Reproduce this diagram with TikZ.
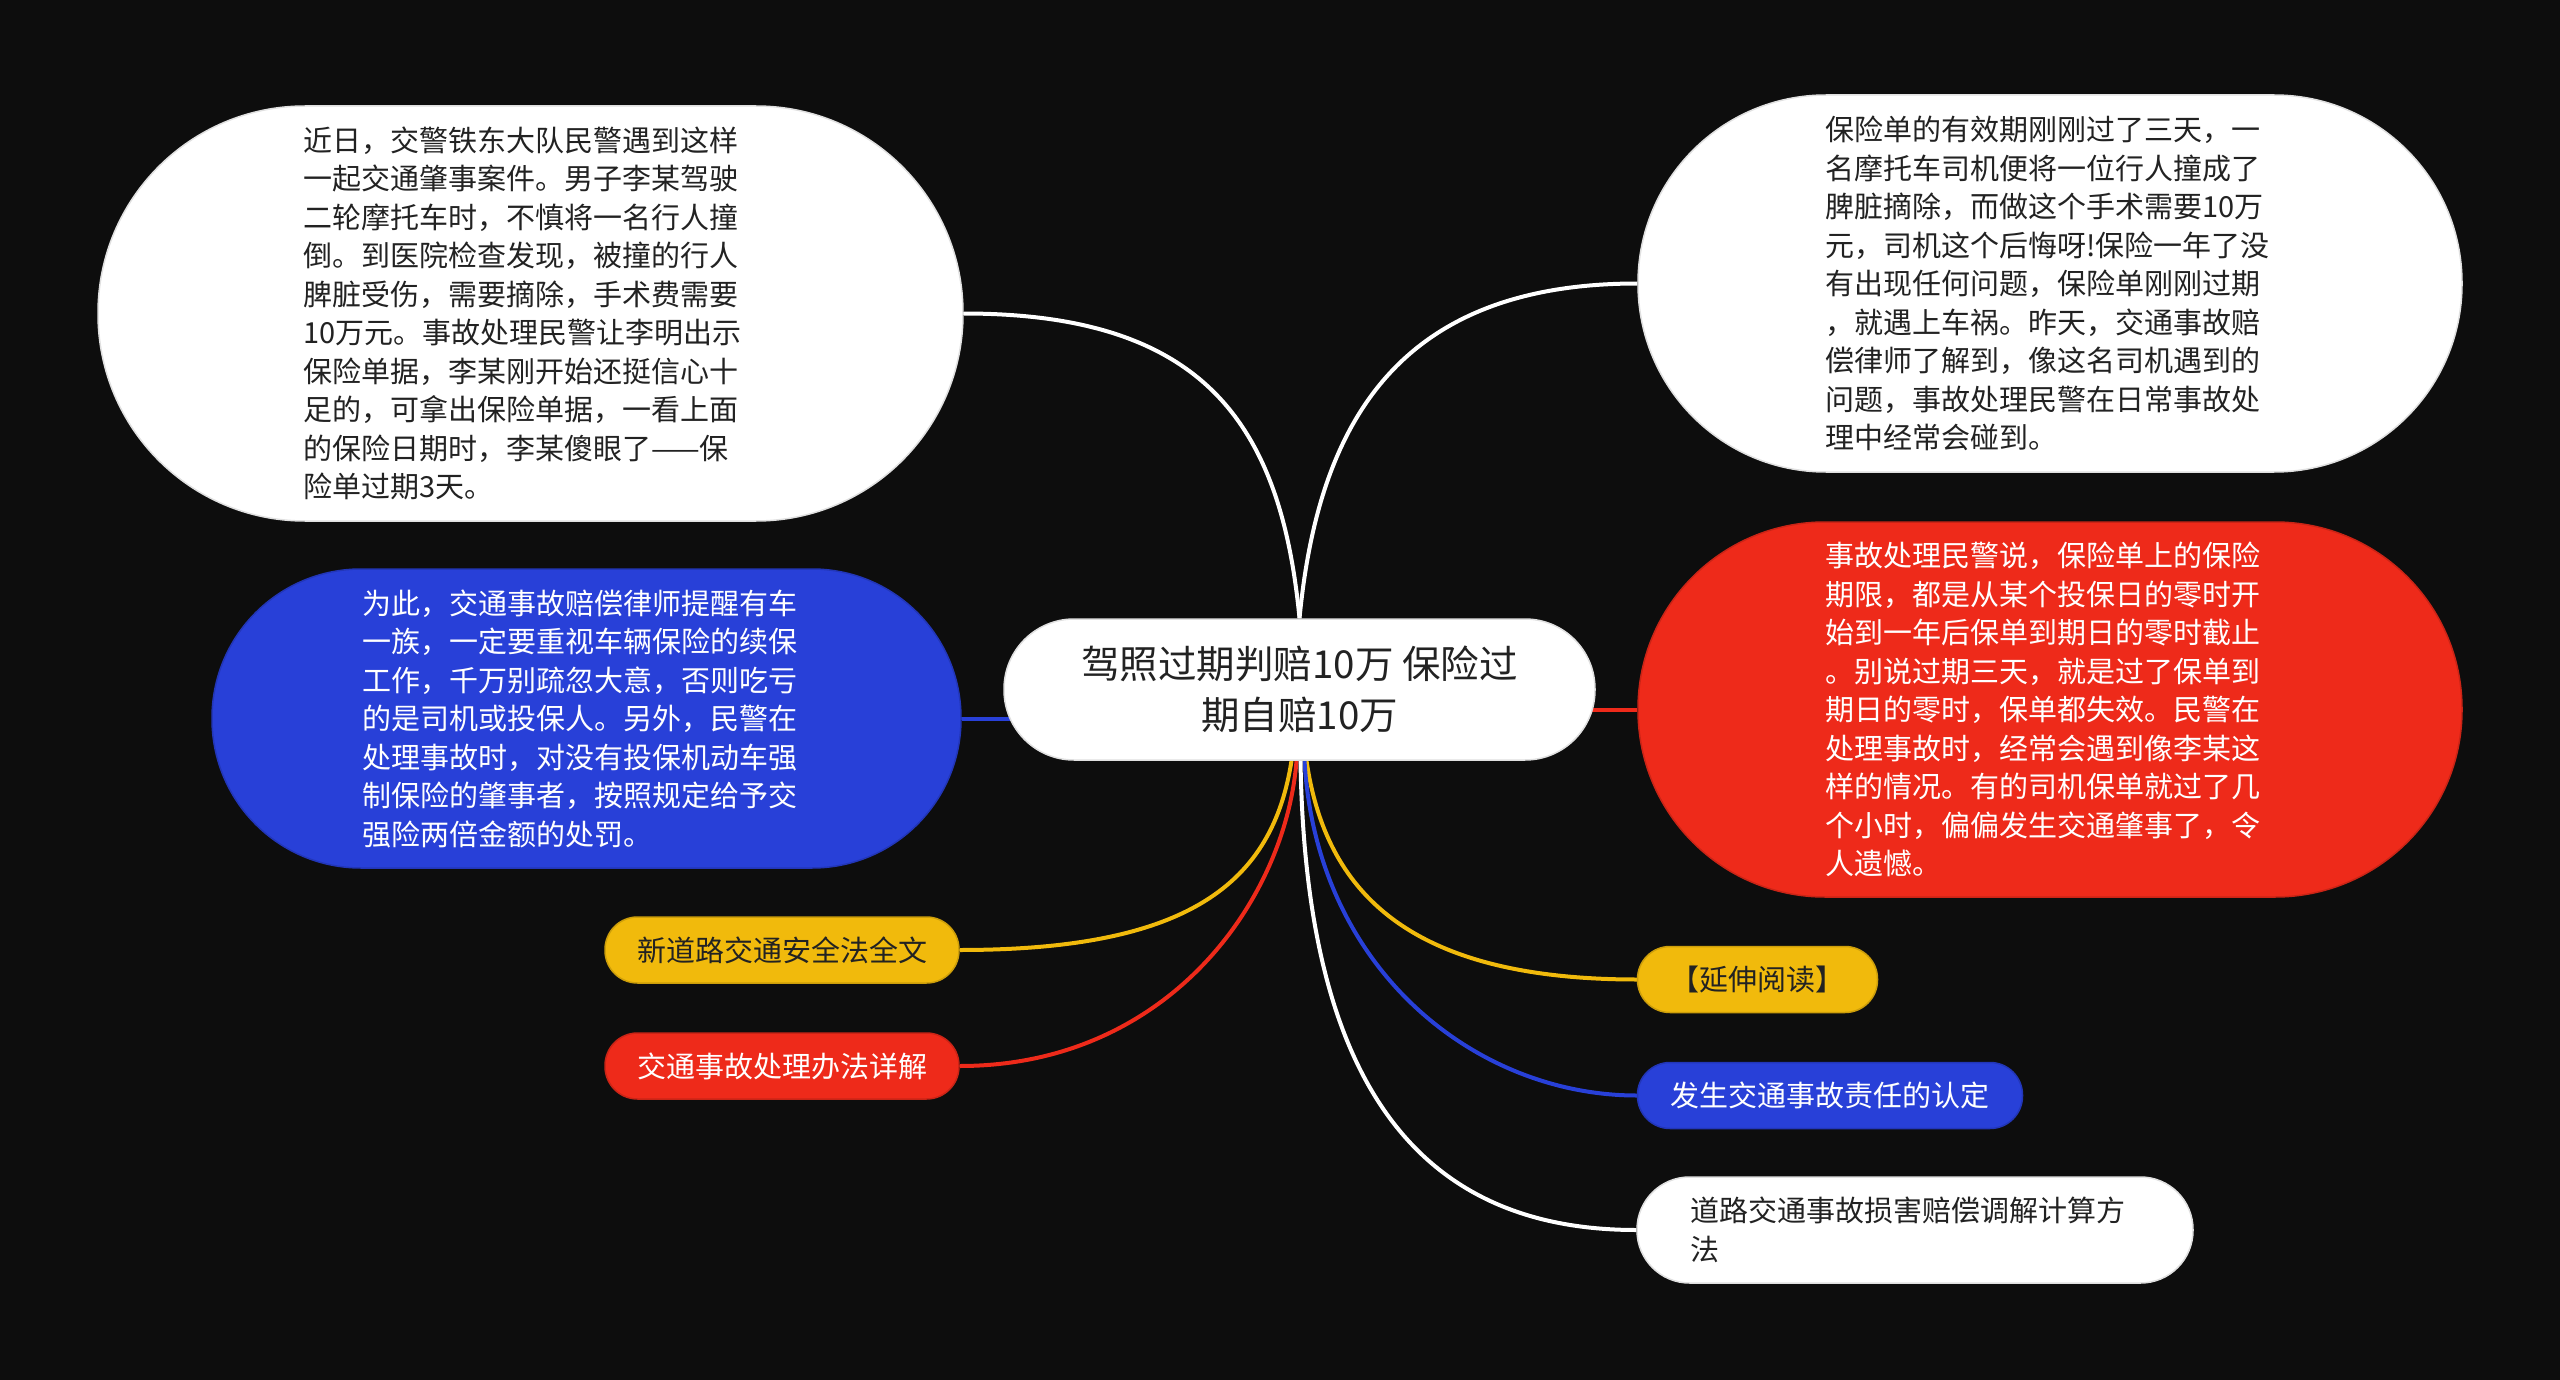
\documentclass[tikz,border=0pt]{standalone}
\usepackage{fontspec}
\newfontfamily\cjk{Noto Sans CJK SC}
\definecolor{bgc}{RGB}{13,13,13}
\definecolor{yel}{RGB}{241,186,12}
\definecolor{redc}{RGB}{238,42,26}
\definecolor{blu}{RGB}{40,64,216}
\definecolor{txtd}{RGB}{34,34,34}
\pgfdeclarelayer{bg}
\pgfsetlayers{bg,main}
\tikzset{
  body/.style={font=\cjk\fontsize{29pt}{38.5pt}\selectfont, inner sep=0pt, line width=1.5pt},
  bigbox/.style={body, align=left},
  wfill/.style={fill=white, draw=white!88!black, text=txtd},
  yfill/.style={fill=yel, draw=yel!85!black, text=txtd},
  rfill/.style={fill=redc, draw=redc!85!black, text=white},
  bfill/.style={fill=blu, draw=blu!85!black, text=white},
  pill/.style={body, minimum height=66pt, rounded corners=32.5pt},
  con/.style={line width=4pt},
  conW/.style={con, draw=white},
  conY/.style={con, draw=yel},
  conR/.style={con, draw=redc},
  conB/.style={con, draw=blu}
}
\begin{document}
\begin{tikzpicture}[x=1pt,y=-1pt]
\begin{pgfonlayer}{bg}
\fill[bgc] (0,0) rectangle (2560,1380);
\end{pgfonlayer}
\useasboundingbox (0,0) rectangle (2560,1380);

% central node
\node[wfill, font=\cjk\fontsize{38.5pt}{51pt}\selectfont, inner sep=0pt, line width=1.5pt,
      align=center, minimum width=591pt, minimum height=141pt, rounded corners=70pt]
  (ctr) at (1299.5,689.5) {驾照过期判赔10万 保险过\\期自赔10万};

% big nodes
\node[bigbox, wfill, minimum width=865pt, minimum height=415pt, rounded corners=207pt, text width=455pt]
  (tl) at (530.5,313.5) {近日，交警铁东大队民警遇到这样\\一起交通肇事案件。男子李某驾驶\\二轮摩托车时，不慎将一名行人撞\\倒。到医院检查发现，被撞的行人\\脾脏受伤，需要摘除，手术费需要\\10万元。事故处理民警让李明出示\\保险单据，李某刚开始还挺信心十\\足的，可拿出保险单据，一看上面\\的保险日期时，李某傻眼了——保\\险单过期3天。};

\node[bigbox, wfill, minimum width=824pt, minimum height=377pt, rounded corners=188pt, text width=450pt]
  (tr) at (2050,283.5) {保险单的有效期刚刚过了三天，一\\名摩托车司机便将一位行人撞成了\\脾脏摘除，而做这个手术需要10万\\元，司机这个后悔呀!保险一年了没\\有出现任何问题，保险单刚刚过期\\，就遇上车祸。昨天，交通事故赔\\偿律师了解到，像这名司机遇到的\\问题，事故处理民警在日常事故处\\理中经常会碰到。};

\node[bigbox, bfill, minimum width=749pt, minimum height=299pt, rounded corners=149pt, text width=449pt]
  (bl) at (586.5,718.5) {为此，交通事故赔偿律师提醒有车\\一族，一定要重视车辆保险的续保\\工作，千万别疏忽大意，否则吃亏\\的是司机或投保人。另外，民警在\\处理事故时，对没有投保机动车强\\制保险的肇事者，按照规定给予交\\强险两倍金额的处罚。};

\node[bigbox, rfill, minimum width=824pt, minimum height=375pt, rounded corners=187pt, text width=450pt]
  (rr) at (2050,709.5) {事故处理民警说，保险单上的保险\\期限，都是从某个投保日的零时开\\始到一年后保单到期日的零时截止\\。别说过期三天，就是过了保单到\\期日的零时，保单都失效。民警在\\处理事故时，经常会遇到像李某这\\样的情况。有的司机保单就过了几\\个小时，偏偏发生交通肇事了，令\\人遗憾。};

% small nodes
\node[pill, yfill, minimum width=354pt] (yl) at (782,950) {新道路交通安全法全文};
\node[pill, rfill, minimum width=354pt] (rl) at (782,1066) {交通事故处理办法详解};
\node[pill, yfill, minimum width=240pt] (yr) at (1757.5,979.5) {【延伸阅读】};
\node[pill, bfill, minimum width=385pt] (br) at (1830,1095.5) {发生交通事故责任的认定};
\node[body, wfill, align=left, minimum width=556pt, minimum height=106pt, rounded corners=52.5pt, text width=450pt]
  (wr) at (1915,1230) {道路交通事故损害赔偿调解计算方\\法};

% connectors
\begin{pgfonlayer}{bg}
\draw[conW] (tl.east) .. controls +(237,0) and +(-19,-198) .. (ctr.north);
\draw[conW] (tr.west) .. controls +(-237,0) and +(19,-198) .. (ctr.north);
\draw[conB] (bl.east) -- ([xshift=40pt]bl.east -| ctr.west);
\draw[conR] (rr.west) -- ([xshift=-40pt]rr.west -| ctr.east);
\draw[conY] ([xshift=-8pt]ctr.south) .. controls +(-19,122) and +(230,0) .. (yl.east);
\draw[conR] ([xshift=-3pt]ctr.south) .. controls +(-11,140) and +(208,0) .. (rl.east);
\draw[conY] ([xshift=7pt]ctr.south) .. controls +(19,130) and +(-230,0) .. (yr.west);
\draw[conB] ([xshift=5pt]ctr.south) .. controls +(12,210) and +(-160,0) .. (br.west);
\draw[conW] ([xshift=1pt]ctr.south) .. controls +(5,320) and +(-220,0) .. (wr.west);
\end{pgfonlayer}
\end{tikzpicture}
\end{document}
